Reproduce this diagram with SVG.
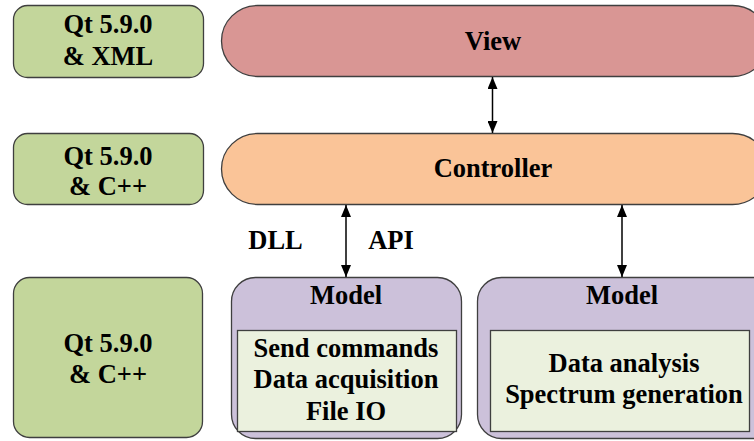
<svg xmlns="http://www.w3.org/2000/svg" width="754" height="441" viewBox="0 0 754 441">
<defs>
<style>
.box{stroke:#3f3f3f;stroke-width:1.3}
.green{fill:#c3d69b}
.inner{fill:#ebf1de;stroke:#3f3f3f;stroke-width:1.3}
.con{stroke:#000;stroke-width:1.5;fill:none;marker-start:url(#ah);marker-end:url(#ah)}
</style>
<marker id="ah" viewBox="0 0 12 10" refX="12" refY="5" markerWidth="12" markerHeight="10" markerUnits="userSpaceOnUse" orient="auto-start-reverse">
<path d="M0,0 L12,5 L0,10 Z" fill="#000"/>
</marker>
</defs>
<rect width="754" height="441" fill="#fff"/>
<g id="tech-xml">
<rect class="box green" x="13.5" y="5.5" width="190" height="72" rx="14"/>
<text font-family="Liberation Serif" font-size="26.5" font-weight="bold" text-anchor="middle" x="108" y="33">Qt 5.9.0</text>
<text font-family="Liberation Serif" font-size="26.5" font-weight="bold" text-anchor="middle" x="108" y="65">&amp; XML</text>
</g>
<g id="view">
<rect class="box" fill="#d99694" x="221.5" y="5.5" width="547" height="71" rx="36"/>
<text font-family="Liberation Serif" font-size="26.5" font-weight="bold" text-anchor="middle" x="493" y="50">View</text>
</g>
<g id="tech-cpp1">
<rect class="box green" x="13.5" y="133.5" width="190" height="71" rx="14"/>
<text font-family="Liberation Serif" font-size="26.5" font-weight="bold" text-anchor="middle" x="108" y="165">Qt 5.9.0</text>
<text font-family="Liberation Serif" font-size="26.5" font-weight="bold" text-anchor="middle" x="108" y="195">&amp; C++</text>
</g>
<g id="controller">
<rect class="box" fill="#fac498" x="221.5" y="133.5" width="547" height="71" rx="36"/>
<text font-family="Liberation Serif" font-size="26.5" font-weight="bold" text-anchor="middle" x="493" y="177">Controller</text>
</g>
<g id="tech-cpp2">
<rect class="box green" x="13.5" y="277.5" width="189" height="160" rx="16"/>
<text font-family="Liberation Serif" font-size="26.5" font-weight="bold" text-anchor="middle" x="108" y="352">Qt 5.9.0</text>
<text font-family="Liberation Serif" font-size="26.5" font-weight="bold" text-anchor="middle" x="108" y="383">&amp; C++</text>
</g>
<g id="model1">
<rect class="box" fill="#ccc1da" x="231.5" y="277.5" width="230" height="161" rx="24"/>
<text font-family="Liberation Serif" font-size="26.5" font-weight="bold" text-anchor="middle" x="346" y="304">Model</text>
<rect class="inner" x="237.5" y="330.5" width="219" height="101"/>
<text font-family="Liberation Serif" font-size="26.5" font-weight="bold" text-anchor="middle" x="346" y="357">Send commands</text>
<text font-family="Liberation Serif" font-size="26.5" font-weight="bold" text-anchor="middle" x="346" y="388">Data acquisition</text>
<text font-family="Liberation Serif" font-size="26.5" font-weight="bold" text-anchor="middle" x="346" y="420">File IO</text>
</g>
<g id="model2">
<rect class="box" fill="#ccc1da" x="477.5" y="277.5" width="300" height="161" rx="24"/>
<text font-family="Liberation Serif" font-size="26.5" font-weight="bold" text-anchor="middle" x="622" y="304">Model</text>
<rect class="inner" x="490.5" y="330.5" width="259" height="101"/>
<text font-family="Liberation Serif" font-size="26.5" font-weight="bold" text-anchor="middle" x="624" y="372">Data analysis</text>
<text font-family="Liberation Serif" font-size="26.5" font-weight="bold" text-anchor="middle" x="624" y="403">Spectrum generation</text>
</g>
<g id="connectors">
<line class="con" x1="492.5" y1="77" x2="492.5" y2="133"/>
<line class="con" x1="346" y1="205" x2="346" y2="277"/>
<line class="con" x1="622" y1="205" x2="622" y2="277"/>
<text font-family="Liberation Serif" font-size="26.5" font-weight="bold" text-anchor="middle" x="275.5" y="249">DLL</text>
<text font-family="Liberation Serif" font-size="26.5" font-weight="bold" text-anchor="middle" x="391" y="249">API</text>
</g>
</svg>
